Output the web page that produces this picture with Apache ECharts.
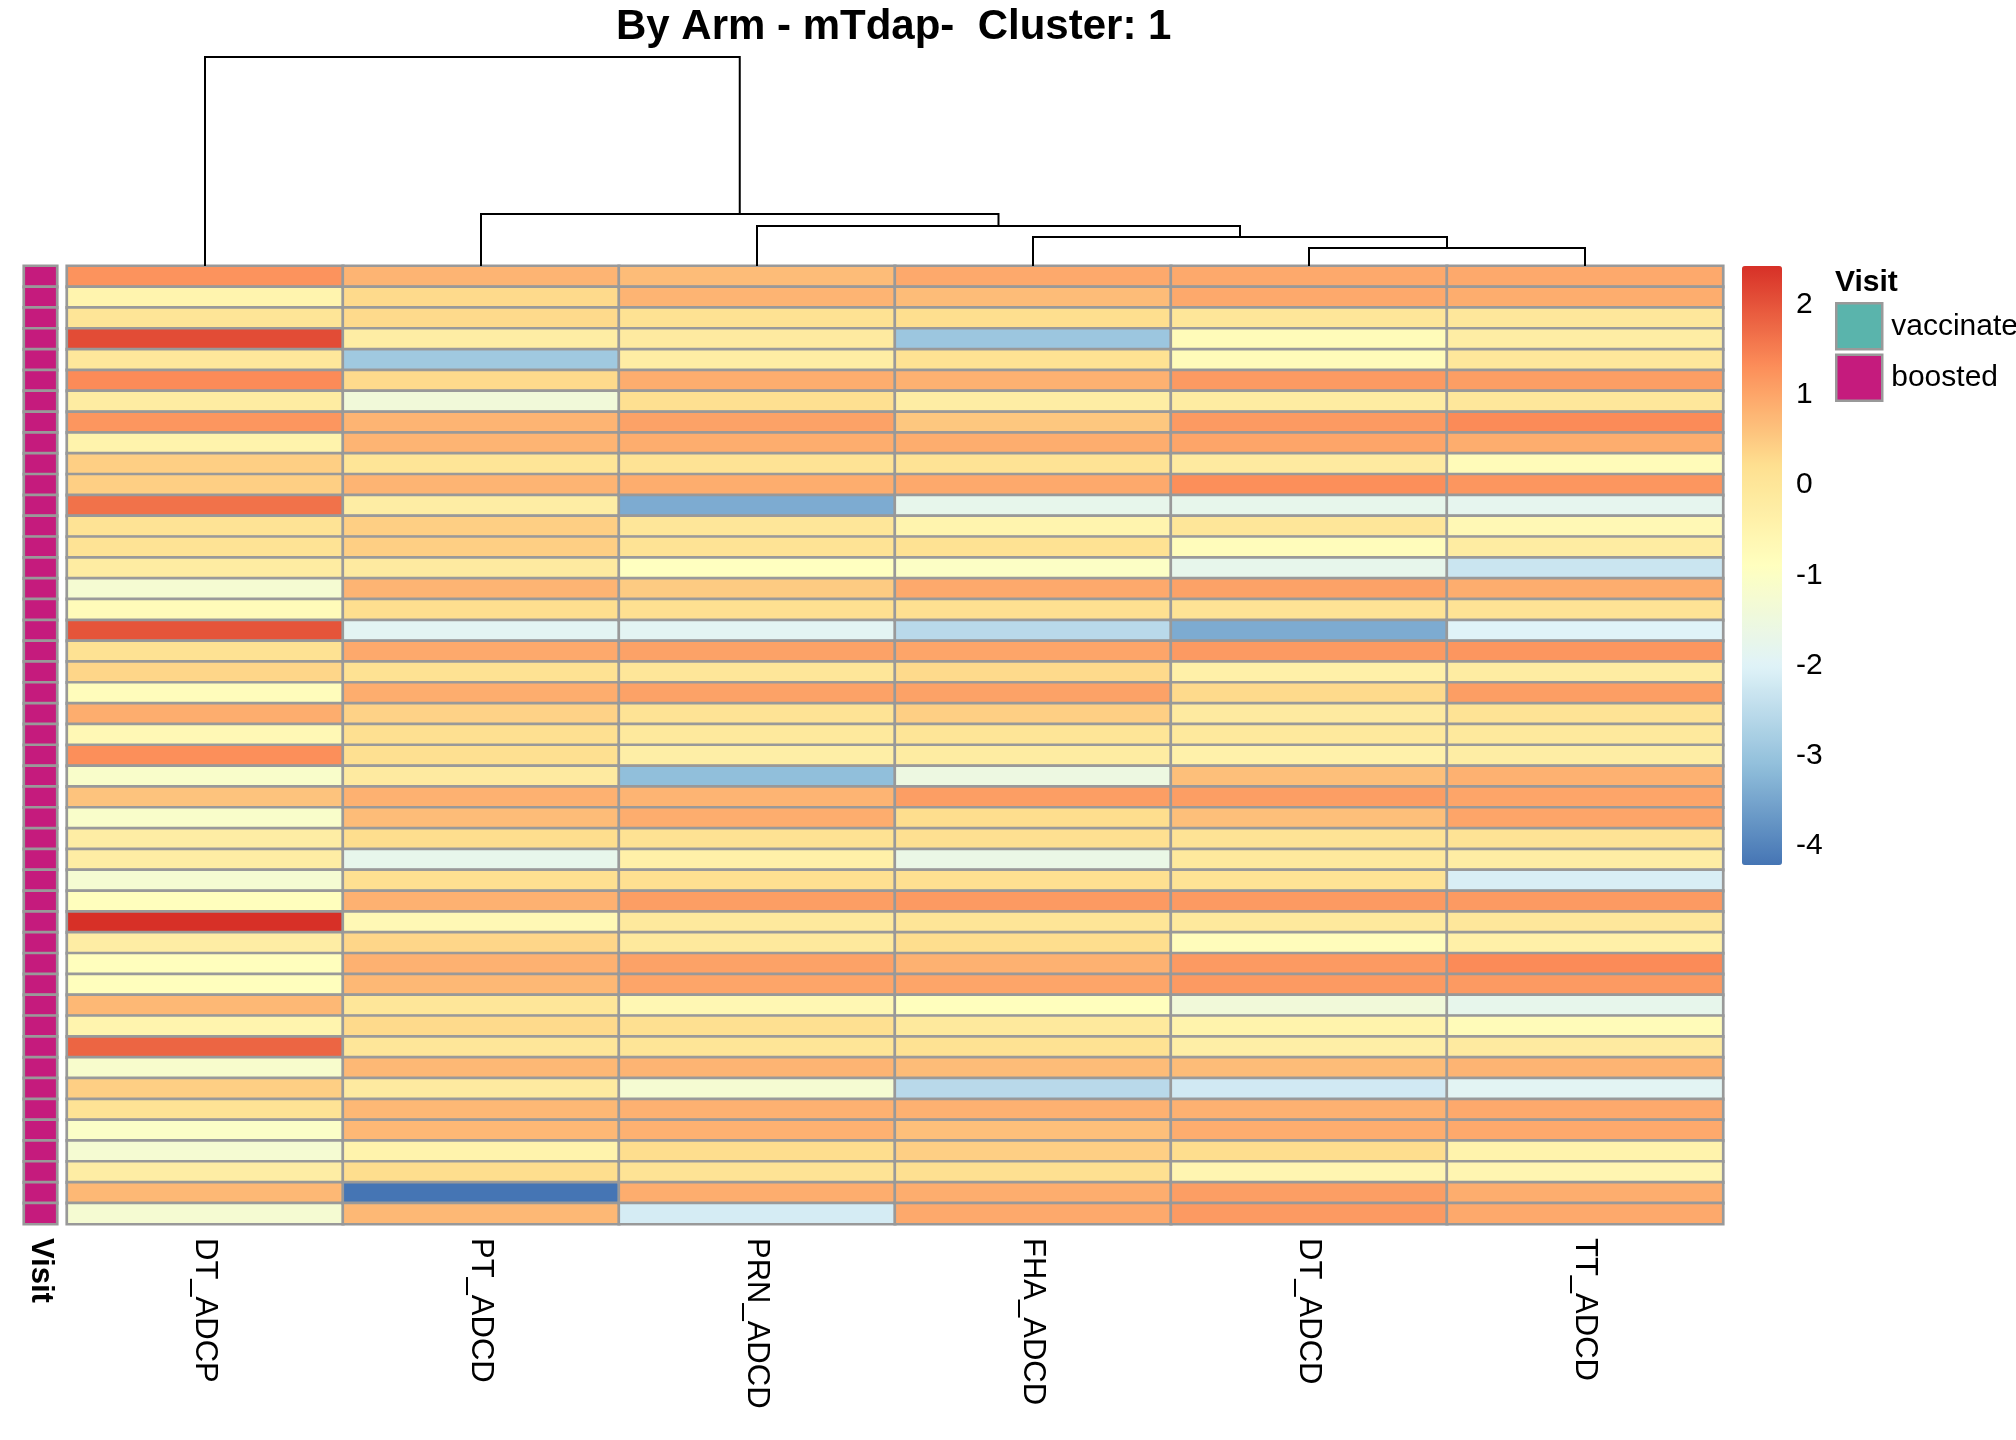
<!DOCTYPE html>
<html>
<head>
<meta charset="utf-8">
<script src="https://cdn.jsdelivr.net/npm/echarts@6/dist/echarts.min.js"></script>
<style>
html,body{margin:0;padding:0;background:#fff;}
#chart{width:2016px;height:1440px;}
</style>
</head>
<body>
<div id="chart"></div>
<script>
// ---------- data ----------
const columns = ['DT_ADCP', 'PT_ADCD', 'PRN_ADCD', 'FHA_ADCD', 'DT_ADCD', 'TT_ADCD'];

const DT_ADCP = [1.25, -0.5, 0.05, 2.1, -0.05, 1.35, -0.2, 1.2, -0.45, 0.45,
  0.45, 1.65, 0.1, 0.1, -0.2, -1.25, -0.75, 2.0, 0.15, 0.35,
  -0.8, 0.9, -0.65, 1.3, -1.1, 0.6, -1.1, -0.25, -0.25, -1.25,
  -0.85, 2.43, -0.25, -0.85, -0.85, 0.75, -0.5, 1.8, -1.15, 0.45,
  0.1, -1.05, -1.25, -0.25, 0.75, -1.25];
const PT_ADCD = [0.8, 0.3, 0.3, -0.25, -2.9, 0.3, -1.4, 0.8, 0.8, 0.05,
  0.8, -0.25, 0.45, 0.45, -0.15, 0.8, 0.23, -1.9, 0.95, 0.15,
  0.9, 0.4, 0.2, 0.2, -0.15, 0.85, 0.7, 0.25, -1.75, 0.2,
  0.85, -0.65, 0.35, 0.85, 0.75, 0.0, 0.3, 0.0, 0.75, -0.15,
  0.75, 0.75, -0.45, 0.25, -4.21, 0.75];
const PRN_ADCD = [0.7, 0.8, 0.15, -0.15, -0.25, 0.9, 0.2, 1.05, 0.9, 0.1,
  0.9, -3.4, 0.0, 0.1, -0.9, 0.5, 0.2, -1.9, 1.05, 0.0,
  1.05, 0.1, -0.1, -0.3, -3.1, 0.8, 0.9, 0.15, -0.35, 0.2,
  1.1, -0.1, -0.1, 1.05, 1.0, -0.6, 0.2, 0.05, 0.8, -1.25,
  0.85, 0.85, 0.25, 0.1, 0.9, -2.15];
const FHA_ADCD = [0.95, 0.7, 0.23, -2.95, 0.15, 0.85, -0.25, 0.55, 0.9, 0.1,
  0.95, -1.75, -0.5, 0.15, -1.0, 0.95, 0.2, -2.55, 1.0, 0.3,
  1.05, 0.45, 0.05, -0.2, -1.55, 1.1, 0.25, 0.2, -1.65, 0.2,
  1.15, 0.05, 0.25, 0.85, 1.0, -0.85, -0.1, 0.15, 0.7, -2.55,
  0.85, 0.65, 0.45, 0.2, 0.9, 0.95];
const DT_ADCD = [0.95, 0.95, 0.0, -0.75, -0.75, 1.15, -0.2, 1.15, 1.0, -0.15,
  1.3, -1.75, 0.0, -0.8, -1.75, 1.05, 0.1, -3.4, 1.15, -0.35,
  0.3, -0.15, -0.1, -0.4, 0.65, 1.1, 0.65, 0.1, -0.1, 0.1,
  1.15, -0.1, -0.8, 1.15, 1.15, -1.4, -0.45, -0.3, 0.7, -2.2,
  0.85, 0.9, 0.25, -0.55, 1.1, 1.15];
const TT_ADCD = [0.95, 0.9, -0.05, -0.25, -0.05, 1.1, -0.05, 1.35, 0.9, -0.75,
  1.2, -1.8, -0.65, -0.2, -2.3, 0.9, 0.1, -2.0, 1.2, -0.2,
  1.1, 0.1, -0.1, -0.25, 0.85, 1.0, 1.0, 0.1, -0.25, -2.1,
  1.15, -0.05, -0.35, 1.35, 1.15, -1.75, -0.75, -0.15, 0.8, -1.9,
  0.95, 0.95, -0.45, -0.55, 0.9, 0.95];

const visitLevels = ['vaccinated', 'boosted'];
const visitColors = ['#5AB4AC', '#C51B7D'];
const visitGroup = ['boosted','boosted','boosted','boosted','boosted','boosted','boosted','boosted','boosted','boosted',
  'boosted','boosted','boosted','boosted','boosted','boosted','boosted','boosted','boosted','boosted',
  'boosted','boosted','boosted','boosted','boosted','boosted','boosted','boosted','boosted','boosted',
  'boosted','boosted','boosted','boosted','boosted','boosted','boosted','boosted','boosted','boosted',
  'boosted','boosted','boosted','boosted','boosted','boosted'];

// hclust-style merge matrix: negative = leaf (column) index, positive = earlier merge
const dendroMerges = [
  [-5, -6, 0.86],
  [-4, 1, 1.39],
  [-3, 2, 1.91],
  [-2, 3, 2.49],
  [-1, 4, 10.0]
];

const colorTicks = [-4, -3, -2, -1, 0, 1, 2];
const scaleMin = -4.21, scaleMax = 2.43;
const paletteRdYlBu = ['#4575B4', '#91BFDB', '#E0F3F8', '#FFFFBF', '#FEE090', '#FC8D59', '#D73027'];

// ---------- build ----------
const valueCols = [DT_ADCP, PT_ADCD, PRN_ADCD, FHA_ADCD, DT_ADCD, TT_ADCD];
const rowIds = DT_ADCP.map((_, i) => String(i + 1));
const heatData = [];
valueCols.forEach((col, c) => col.forEach((v, r) => heatData.push([c, r, v])));
const annoData = visitGroup.map((g, r) => [0, r, visitLevels.indexOf(g)]);

// dendrogram segments
const nodePos = [];
const dendroData = dendroMerges.map(m => {
  const child = k => k < 0 ? { x: -k - 1 + 0.5, h: 0 } : nodePos[k - 1];
  const a = child(m[0]), b = child(m[1]);
  nodePos.push({ x: (a.x + b.x) / 2, h: m[2] });
  return [a.x, a.h, b.x, b.h, m[2]];
});

const FONT = "'Liberation Sans', Arial, sans-serif";
const HM = { left: 67, top: 266, width: 1656, height: 958 };

const chart = echarts.init(document.getElementById('chart'));
chart.setOption({
  backgroundColor: '#ffffff',
  animation: false,
  title: [
    { text: 'By Arm - mTdap-  Cluster: 1', left: 616, top: 6, padding: 0,
      textStyle: { fontFamily: FONT, fontSize: 42, fontWeight: 'bold', color: '#000' } },
    { text: 'Visit', left: 1835, top: 268, padding: 0,
      textStyle: { fontFamily: FONT, fontSize: 30, fontWeight: 'bold', color: '#000' } }
  ],
  legend: {
    data: visitLevels, orient: 'vertical', left: 1835, top: 302, padding: 0,
    itemWidth: 46, itemHeight: 46, itemGap: 3, icon: 'rect', selectedMode: false,
    itemStyle: { borderColor: '#999999', borderWidth: 2.5, opacity: 1 },
    textStyle: { fontFamily: FONT, fontSize: 30, color: '#000', padding: [0, 0, 0, 4] }
  },
  grid: [
    { left: HM.left, top: HM.top, width: HM.width, height: HM.height, show: false },
    { left: 24, top: HM.top, width: 33, height: HM.height, show: false },
    { left: HM.left, top: 57, width: HM.width, height: 209, show: false },
    { left: 1742, top: 266, width: 40, height: 599, show: false }
  ],
  xAxis: [
    { type: 'category', gridIndex: 0, data: columns, position: 'bottom',
      axisLine: { show: false }, axisTick: { show: false }, splitLine: { show: false },
      axisLabel: { rotate: -90, margin: 14, fontFamily: FONT, fontSize: 31, color: '#000', interval: 0 } },
    { type: 'category', gridIndex: 1, data: ['Visit'], position: 'bottom',
      axisLine: { show: false }, axisTick: { show: false },
      axisLabel: { rotate: -90, margin: 14, fontFamily: FONT, fontSize: 31, fontWeight: 'bold', color: '#000' } },
    { type: 'value', gridIndex: 2, min: 0, max: 6, show: false },
    { type: 'value', gridIndex: 3, min: 0, max: 1, show: false }
  ],
  yAxis: [
    { type: 'category', gridIndex: 0, data: rowIds, inverse: true, show: false },
    { type: 'category', gridIndex: 1, data: rowIds, inverse: true, show: false },
    { type: 'value', gridIndex: 2, min: 0, max: 10, show: false },
    { type: 'value', gridIndex: 3, min: scaleMin, max: scaleMax, position: 'right',
      axisLine: { show: false }, axisTick: { show: false }, splitLine: { show: false },
      axisLabel: { customValues: colorTicks, margin: 14, fontFamily: FONT, fontSize: 30, color: '#000' } }
  ],
  visualMap: [
    { type: 'continuous', seriesIndex: 0, min: scaleMin, max: scaleMax,
      left: 1742, top: 266, itemWidth: 40, itemHeight: 599, padding: 0,
      calculable: false, realtime: false, hoverLink: false,
      inRange: { color: paletteRdYlBu } },
    { type: 'piecewise', seriesIndex: 1, show: false,
      pieces: visitLevels.map((l, i) => ({ value: i, color: visitColors[i] })) }
  ],
  series: [
    { type: 'heatmap', xAxisIndex: 0, yAxisIndex: 0, data: heatData,
      itemStyle: { borderColor: '#999999', borderWidth: 2.7 }, emphasis: { disabled: true } },
    { type: 'heatmap', xAxisIndex: 1, yAxisIndex: 1, data: annoData,
      itemStyle: { borderColor: '#999999', borderWidth: 2.7 }, emphasis: { disabled: true } },
    { type: 'custom', xAxisIndex: 2, yAxisIndex: 2, data: dendroData,
      renderItem: function (params, api) {
        const p = [api.coord([api.value(0), api.value(1)]), api.coord([api.value(0), api.value(4)]),
                   api.coord([api.value(2), api.value(4)]), api.coord([api.value(2), api.value(3)])];
        return { type: 'polyline', shape: { points: p }, style: { stroke: '#000', lineWidth: 2, fill: null } };
      } },
    { name: 'vaccinated', type: 'scatter', xAxisIndex: 3, yAxisIndex: 3, data: [],
      itemStyle: { color: visitColors[0], opacity: 1 } },
    { name: 'boosted', type: 'scatter', xAxisIndex: 3, yAxisIndex: 3, data: [],
      itemStyle: { color: visitColors[1], opacity: 1 } }
  ]
});
</script>
</body>
</html>
